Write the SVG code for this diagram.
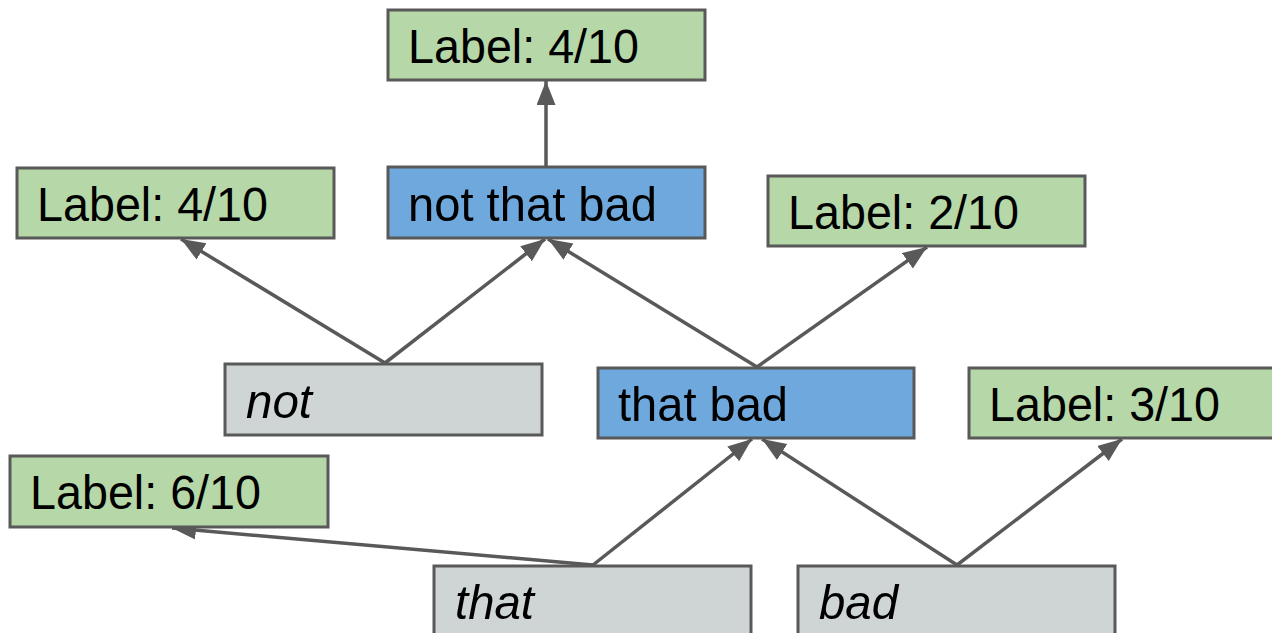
<svg xmlns="http://www.w3.org/2000/svg" width="1272" height="633" viewBox="0 0 1272 633">
<style>
.box{stroke:#595959;stroke-width:3}
.g{fill:#b6d7a8}
.b{fill:#6fa8dc}
.w{fill:#cfd5d5}
text{font-family:"Liberation Sans",Arial,sans-serif;font-size:49px;fill:#000}
.it{font-style:italic}
.c line{stroke:#595959;stroke-width:3.5}
</style>
<defs>
<marker id="ah" markerUnits="userSpaceOnUse" markerWidth="26" markerHeight="20" refX="24" refY="9.5" orient="auto">
<path d="M0,0 L24,9.5 L0,19 z" fill="#595959"/>
</marker>
</defs>
<rect width="1272" height="633" fill="#fff"/>
<g class="c">
<line x1="546" y1="167" x2="546" y2="81" marker-end="url(#ah)"/>
<line x1="385" y1="363" x2="181" y2="239" marker-end="url(#ah)"/>
<line x1="385" y1="363" x2="545" y2="239" marker-end="url(#ah)"/>
<line x1="757" y1="367" x2="548" y2="239" marker-end="url(#ah)"/>
<line x1="757" y1="367" x2="927" y2="247" marker-end="url(#ah)"/>
<line x1="593" y1="565" x2="172" y2="528" marker-end="url(#ah)"/>
<line x1="593" y1="565" x2="752" y2="439" marker-end="url(#ah)"/>
<line x1="957" y1="565" x2="762" y2="439" marker-end="url(#ah)"/>
<line x1="957" y1="565" x2="1122" y2="439" marker-end="url(#ah)"/>
</g>
<g id="top-label"><rect class="box g" x="388" y="10" width="317" height="70"/><text x="408" y="63" textLength="231" lengthAdjust="spacingAndGlyphs">Label: 4/10</text></g>
<g id="left-label"><rect class="box g" x="17" y="168" width="317" height="70"/><text x="37" y="221" textLength="231" lengthAdjust="spacingAndGlyphs">Label: 4/10</text></g>
<g id="not-that-bad"><rect class="box b" x="388" y="167" width="317" height="71"/><text x="408" y="221" textLength="249" lengthAdjust="spacingAndGlyphs">not that bad</text></g>
<g id="label-2"><rect class="box g" x="768" y="176" width="317" height="70"/><text x="788" y="229" textLength="231" lengthAdjust="spacingAndGlyphs">Label: 2/10</text></g>
<g id="not"><rect class="box w" x="225" y="364" width="317" height="71"/><text class="it" x="246" y="418" textLength="66" lengthAdjust="spacingAndGlyphs">not</text></g>
<g id="that-bad"><rect class="box b" x="598" y="368" width="316" height="70"/><text x="618" y="421" textLength="170" lengthAdjust="spacingAndGlyphs">that bad</text></g>
<g id="label-3"><rect class="box g" x="969" y="368" width="317" height="70"/><text x="989" y="421" textLength="231" lengthAdjust="spacingAndGlyphs">Label: 3/10</text></g>
<g id="label-6"><rect class="box g" x="10" y="456" width="318" height="71"/><text x="30" y="509" textLength="231" lengthAdjust="spacingAndGlyphs">Label: 6/10</text></g>
<g id="that"><rect class="box w" x="434" y="566" width="317" height="75"/><text class="it" x="455" y="619" textLength="79" lengthAdjust="spacingAndGlyphs">that</text></g>
<g id="bad"><rect class="box w" x="798" y="566" width="317" height="75"/><text class="it" x="819" y="619" textLength="79" lengthAdjust="spacingAndGlyphs">bad</text></g>
</svg>
